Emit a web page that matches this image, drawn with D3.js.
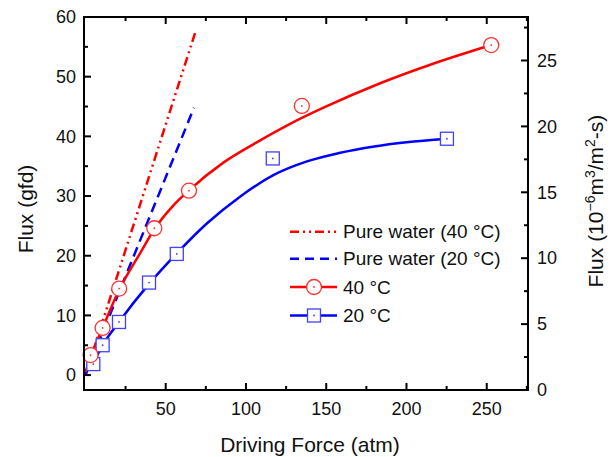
<!DOCTYPE html>
<html><head><meta charset="utf-8">
<script src="https://cdn.jsdelivr.net/npm/d3@7"></script>
<style>
body{margin:0;background:#fff;}
svg{display:block;font-family:"Liberation Sans",Arial,sans-serif;}
</style></head>
<body>
<svg id="c" width="614" height="457"></svg>
<script>
// ---- data ----
const xTicks = [50, 100, 150, 200, 250];
const xMinorTicks = [25, 75, 125, 175, 225, 275];
const yLeftTicks = [0, 10, 20, 30, 40, 50, 60];
const yLeftMinor = [5, 15, 25, 35, 45, 55];
const yRightTicks = [0, 5, 10, 15, 20, 25];
const yRightMinor = [2.5, 7.5, 12.5, 17.5, 22.5, 27.5];

const force40 = [3.2, 10.7, 21.0, 42.9, 64.5, 134.8, 252.8];
const flux40  = [3.35, 7.9, 14.5, 24.6, 30.9, 45.1, 55.3];
const force20 = [4.9, 10.7, 20.9, 39.6, 56.9, 116.7, 225.2];
const flux20  = [1.84, 5.0, 8.9, 15.5, 20.3, 36.3, 39.6];

const fit40X = [0, 3.5, 10.7, 21, 34, 43.3, 54.7, 64.7, 85.9, 106.7, 127.5, 148.3, 183.6, 214.8, 252.8];
const fit40Y = [0.5, 3.2, 7.9, 14.3, 20.4, 24.6, 28.4, 31.0, 35.6, 39.0, 42.1, 44.8, 48.9, 52.0, 55.3];
const fit20X = [4.9, 10.7, 20.9, 40, 56.9, 75.6, 96.3, 117.1, 138, 158, 180, 200, 225.2];
const fit20Y = [1.9, 5.0, 8.9, 15.4, 20.4, 25.4, 29.9, 33.5, 35.8, 37.2, 38.3, 39.0, 39.6];

const pw40X = [0, 68.5], pw40Y = [0, 57.5];
const pw20X = [0, 67.6], pw20Y = [0, 44.8];

const legendLabels = ["Pure water (40 °C)", "Pure water (20 °C)", "40 °C", "20 °C"];

// ---- layout ----
const L = 84, R = 528, T = 17, B = 390;
const svg = d3.select("#c");
const x = d3.scaleLinear().domain([-0.9, 275.7]).range([L, R]);
const y = d3.scaleLinear().domain([-2.5, 60]).range([B, T]);
const y2 = d3.scaleLinear().domain([0, 28.3]).range([B, T]);

const RED = "#ff0000", BLUE = "#0000ff";
const MRED = "#ff3030", MBLUE = "#4040ff";

const zip = (a, b) => a.map((v, i) => [v, b[i]]);
const line = d3.line().x(d => x(d[0])).y(d => y(d[1]));
const curve = d3.line().x(d => x(d[0])).y(d => y(d[1])).curve(d3.curveMonotoneX);

const plot = svg.append("g");
// pure water lines
plot.append("path").attr("d", line(zip(pw40X, pw40Y))).attr("fill", "none")
  .attr("stroke", RED).attr("stroke-width", 2.5).attr("stroke-dasharray", "9,4,2,4,2,4");
plot.append("path").attr("d", line(zip(pw20X, pw20Y))).attr("fill", "none")
  .attr("stroke", BLUE).attr("stroke-width", 2.5).attr("stroke-dasharray", "10,6");
// fits
plot.append("path").attr("d", curve(zip(fit40X, fit40Y))).attr("fill", "none")
  .attr("stroke", RED).attr("stroke-width", 2.5);
plot.append("path").attr("d", curve(zip(fit20X, fit20Y))).attr("fill", "none")
  .attr("stroke", BLUE).attr("stroke-width", 2.5);

function circleMarker(g, cx, cy) {
  g.append("circle").attr("cx", cx).attr("cy", cy).attr("r", 7.5)
    .attr("fill", "#fff").attr("stroke", MRED).attr("stroke-width", 1.3);
  g.append("circle").attr("cx", cx).attr("cy", cy).attr("r", 0.9).attr("fill", MRED);
}
function squareMarker(g, cx, cy) {
  g.append("rect").attr("x", cx - 6.5).attr("y", cy - 6.5).attr("width", 13).attr("height", 13)
    .attr("fill", "#fff").attr("stroke", MBLUE).attr("stroke-width", 1.3);
  g.append("circle").attr("cx", cx).attr("cy", cy).attr("r", 0.9).attr("fill", MBLUE);
}
zip(force20, flux20).forEach(d => squareMarker(plot, x(d[0]), y(d[1])));
zip(force40, flux40).forEach(d => circleMarker(plot, x(d[0]), y(d[1])));

// ---- axes ----
const ax = svg.append("g").attr("stroke", "#000").attr("stroke-width", 2);
ax.append("rect").attr("x", L).attr("y", T).attr("width", R - L).attr("height", B - T).attr("fill", "none");
const MAJ = 7, MIN = 4;
xTicks.forEach(v => {
  ax.append("line").attr("x1", x(v)).attr("x2", x(v)).attr("y1", B).attr("y2", B - MAJ);
  ax.append("line").attr("x1", x(v)).attr("x2", x(v)).attr("y1", T).attr("y2", T + MAJ);
});
xMinorTicks.filter(v => x(v) < R - 1).forEach(v => {
  ax.append("line").attr("x1", x(v)).attr("x2", x(v)).attr("y1", B).attr("y2", B - MIN);
  ax.append("line").attr("x1", x(v)).attr("x2", x(v)).attr("y1", T).attr("y2", T + MIN);
});
yLeftTicks.forEach(v => ax.append("line").attr("x1", L).attr("x2", L + MAJ).attr("y1", y(v)).attr("y2", y(v)));
yLeftMinor.forEach(v => ax.append("line").attr("x1", L).attr("x2", L + MIN).attr("y1", y(v)).attr("y2", y(v)));
yRightTicks.forEach(v => ax.append("line").attr("x1", R).attr("x2", R - MAJ).attr("y1", y2(v)).attr("y2", y2(v)));
yRightMinor.forEach(v => ax.append("line").attr("x1", R).attr("x2", R - MIN).attr("y1", y2(v)).attr("y2", y2(v)));

const lab = svg.append("g").attr("fill", "#111").attr("font-size", 18);
xTicks.forEach(v => lab.append("text").attr("x", x(v)).attr("y", 415).attr("text-anchor", "middle").text(v));
yLeftTicks.forEach(v => lab.append("text").attr("x", 76).attr("y", y(v)).attr("dy", "0.35em").attr("text-anchor", "end").text(v));
yRightTicks.forEach(v => lab.append("text").attr("x", 537).attr("y", y2(v)).attr("dy", "0.35em").text(v));

// titles
svg.append("text").attr("x", 310).attr("y", 452).attr("text-anchor", "middle")
  .attr("font-size", 21).attr("fill", "#111").text("Driving Force (atm)");
svg.append("text").attr("transform", "translate(33,209) rotate(-90)").attr("text-anchor", "middle")
  .attr("font-size", 21).attr("fill", "#111").text("Flux (gfd)");
const rt = svg.append("text").attr("transform", "translate(603,201) rotate(-90)").attr("text-anchor", "middle")
  .attr("font-size", 21).attr("fill", "#111");
rt.append("tspan").text("Flux (10");
rt.append("tspan").attr("font-size", 14).attr("dy", -8).text("−6");
rt.append("tspan").attr("dy", 8).text("m");
rt.append("tspan").attr("font-size", 14).attr("dy", -8).text("3");
rt.append("tspan").attr("dy", 8).text("/m");
rt.append("tspan").attr("font-size", 14).attr("dy", -8).text("2");
rt.append("tspan").attr("dy", 8).text("-s)");

// legend
const lg = svg.append("g");
const rows = [231.7, 258.8, 287, 315.5];
const lx1 = 290, lx2 = 337, lmx = 314;
lg.append("line").attr("x1", lx1).attr("x2", lx2).attr("y1", rows[0]).attr("y2", rows[0])
  .attr("stroke", RED).attr("stroke-width", 2.5).attr("stroke-dasharray", "9,4,2,4,2,4");
lg.append("line").attr("x1", lx1).attr("x2", lx2).attr("y1", rows[1]).attr("y2", rows[1])
  .attr("stroke", BLUE).attr("stroke-width", 2.5).attr("stroke-dasharray", "9,6");
lg.append("line").attr("x1", lx1).attr("x2", lx2).attr("y1", rows[2]).attr("y2", rows[2])
  .attr("stroke", RED).attr("stroke-width", 2.5);
circleMarker(lg, lmx, rows[2]);
lg.append("line").attr("x1", lx1).attr("x2", lx2).attr("y1", rows[3]).attr("y2", rows[3])
  .attr("stroke", BLUE).attr("stroke-width", 2.5);
squareMarker(lg, lmx, rows[3]);
legendLabels.forEach((t, i) => lg.append("text").attr("x", 343).attr("y", rows[i]).attr("dy", "0.35em")
  .attr("font-size", 19).attr("fill", "#111").text(t));
</script>
</body></html>
